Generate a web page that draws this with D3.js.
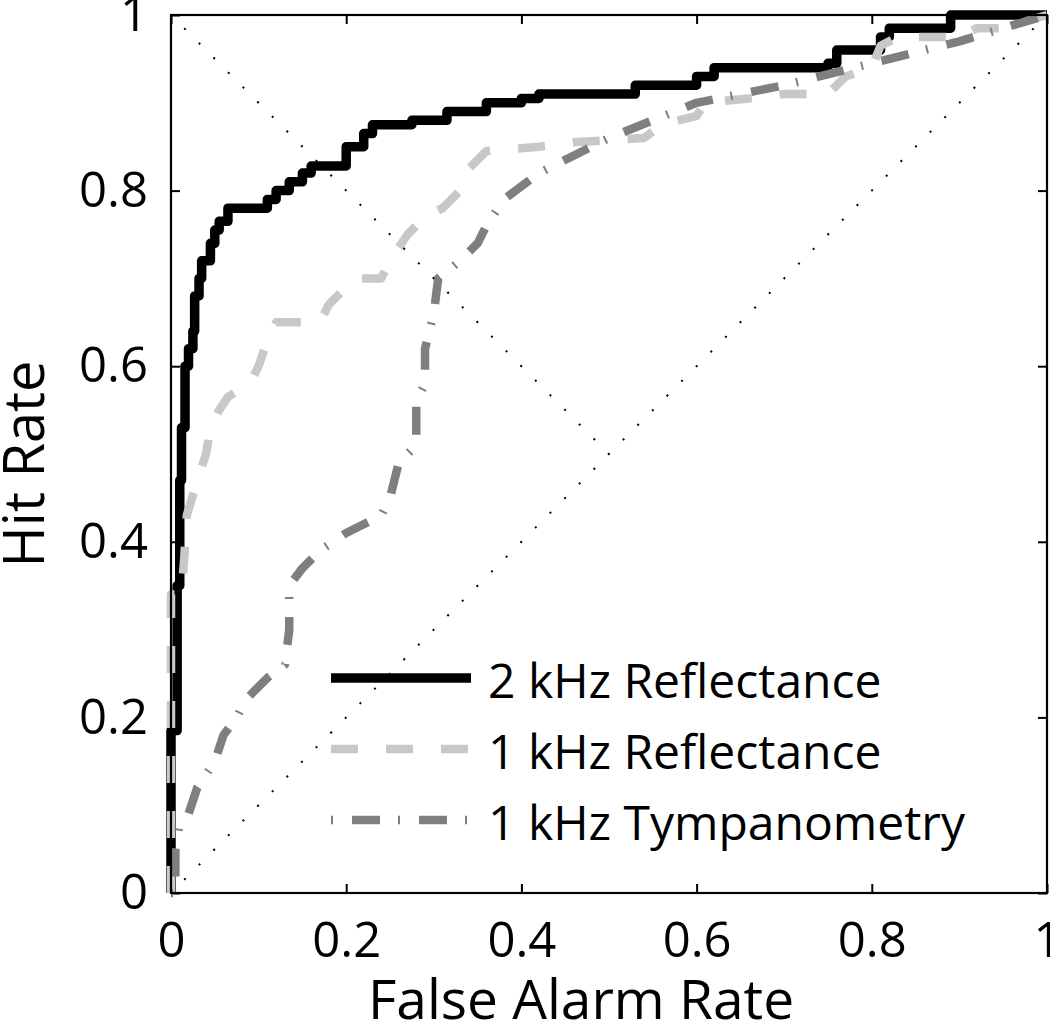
<!DOCTYPE html>
<html>
<head>
<meta charset="utf-8">
<script src="https://cdn.jsdelivr.net/npm/d3@7"></script>
<style>
  body { margin: 0; background: #fff; }
  text { font-family: "Open Sans", "Noto Sans", sans-serif; fill: #000; }
</style>
</head>
<body>
<div id="chart"></div>
<script>
// ROC curves (false alarm rate, hit rate)
const refl2kFA = [0, 0, 0.007, 0.007, 0.01, 0.012, 0.016, 0.02, 0.025, 0.027, 0.032, 0.035, 0.045, 0.05, 0.055, 0.065, 0.1, 0.11, 0.12, 0.135, 0.15, 0.16, 0.2, 0.2, 0.22, 0.22, 0.23, 0.27, 0.275, 0.31, 0.315, 0.35, 0.36, 0.39, 0.4, 0.42, 0.52, 0.53, 0.6, 0.62, 0.75, 0.76, 0.8, 0.81, 0.82, 0.885, 0.89, 1];
const refl2kHR = [0, 0.185, 0.185, 0.35, 0.47, 0.53, 0.6, 0.62, 0.64, 0.68, 0.70, 0.72, 0.74, 0.755, 0.765, 0.78, 0.78, 0.79, 0.80, 0.81, 0.82, 0.828, 0.828, 0.85, 0.85, 0.865, 0.875, 0.875, 0.88, 0.88, 0.89, 0.89, 0.9, 0.9, 0.905, 0.91, 0.91, 0.92, 0.93, 0.94, 0.945, 0.96, 0.96, 0.975, 0.985, 0.985, 1, 1];

const refl1kFA = [0, 0, 0.012, 0.015, 0.018, 0.03, 0.04, 0.045, 0.055, 0.065, 0.09, 0.1, 0.11, 0.12, 0.17, 0.18, 0.2, 0.21, 0.24, 0.25, 0.27, 0.29, 0.31, 0.33, 0.34, 0.36, 0.42, 0.46, 0.54, 0.56, 0.6, 0.61, 0.66, 0.7, 0.75, 0.77, 0.8, 0.81, 0.83, 0.9, 0.92, 0.95, 1];
const refl1kHR = [0, 0.34, 0.34, 0.38, 0.43, 0.47, 0.5, 0.53, 0.55, 0.565, 0.58, 0.6, 0.63, 0.65, 0.65, 0.67, 0.69, 0.70, 0.70, 0.72, 0.75, 0.77, 0.78, 0.80, 0.825, 0.845, 0.85, 0.855, 0.86, 0.875, 0.885, 0.9, 0.905, 0.91, 0.91, 0.93, 0.94, 0.965, 0.975, 0.975, 0.985, 0.985, 1];

const tymp1kFA = [0, 0.005, 0.005, 0.01, 0.02, 0.03, 0.05, 0.06, 0.075, 0.085, 0.11, 0.13, 0.135, 0.135, 0.15, 0.17, 0.2, 0.22, 0.24, 0.25, 0.26, 0.27, 0.28, 0.28, 0.29, 0.29, 0.3, 0.305, 0.33, 0.35, 0.36, 0.38, 0.42, 0.46, 0.5, 0.55, 0.6, 0.7, 0.8, 0.9, 0.95, 1];
const tymp1kHR = [0, 0, 0.05, 0.08, 0.09, 0.12, 0.15, 0.18, 0.2, 0.22, 0.245, 0.26, 0.3, 0.35, 0.37, 0.39, 0.41, 0.42, 0.43, 0.45, 0.49, 0.5, 0.51, 0.56, 0.58, 0.62, 0.66, 0.7, 0.72, 0.74, 0.76, 0.79, 0.82, 0.84, 0.86, 0.88, 0.9, 0.92, 0.945, 0.97, 0.985, 1];

const seriesNames = ["2 kHz Reflectance", "1 kHz Reflectance", "1 kHz Tympanometry"];
const ticks = [0, 0.2, 0.4, 0.6, 0.8, 1];

const width = 1050, height = 1027;
const margin = {top: 15, right: 3, bottom: 134, left: 171};

const svg = d3.select("#chart").append("svg")
  .attr("width", width)
  .attr("height", height);

const x = d3.scaleLinear().domain([0, 1]).range([margin.left, width - margin.right]);
const y = d3.scaleLinear().domain([0, 1]).range([height - margin.bottom, margin.top]);

const zip = (a, b) => a.map((v, i) => [v, b[i]]);

const series = [
  {name: seriesNames[0], pts: zip(refl2kFA, refl2kHR), color: "#000", w: 9.5, dash: null, curve: d3.curveStepAfter},
  {name: seriesNames[1], pts: zip(refl1kFA, refl1kHR), color: "#c8c8c8", w: 8.5, dash: "27,28", curve: d3.curveLinear},
  {name: seriesNames[2], pts: zip(tymp1kFA, tymp1kHR), color: "#7f7f7f", w: 8.5, dash: "2,19,28,18", curve: d3.curveLinear}
];

const line = d3.line().x(d => x(d[0])).y(d => y(d[1]));

// axes (ticks inward, on all four sides)
const fmt = d => d === 0 || d === 1 ? d3.format("d")(d) : d3.format(".1f")(d);

const gx = svg.append("g")
  .attr("transform", `translate(0,${y(0)})`)
  .call(d3.axisBottom(x).tickValues(ticks).tickFormat(fmt).tickSizeInner(-9).tickSizeOuter(0).tickPadding(29));
const gy = svg.append("g")
  .attr("transform", `translate(${x(0)},0)`)
  .call(d3.axisLeft(y).tickValues(ticks).tickFormat(fmt).tickSizeInner(-9).tickSizeOuter(0).tickPadding(23));
svg.append("g")
  .attr("transform", `translate(0,${y(1)})`)
  .call(d3.axisTop(x).tickValues(ticks).tickFormat("").tickSizeInner(-9).tickSizeOuter(0));
svg.append("g")
  .attr("transform", `translate(${x(1)},0)`)
  .call(d3.axisRight(y).tickValues(ticks).tickFormat("").tickSizeInner(-9).tickSizeOuter(0));

svg.selectAll(".domain").remove();
svg.selectAll(".tick line").attr("stroke", "#000").attr("stroke-width", 2);
gx.selectAll("text").attr("font-size", 49).attr("font-family", null);
gy.selectAll("text").attr("font-size", 49).attr("font-family", null);

// curves
svg.selectAll(".curve")
  .data(series)
  .enter()
  .append("path")
  .attr("class", "curve")
  .attr("d", d => line.curve(d.curve)(d.pts))
  .attr("fill", "none")
  .attr("stroke", d => d.color)
  .attr("stroke-width", d => d.w)
  .attr("stroke-dasharray", d => d.dash)
  .attr("stroke-linejoin", "round");

line.curve(d3.curveLinear);

// chance diagonals
const diag = [[[0, 0], [1, 1]], [[0, 1], [0.5, 0.5]]];
svg.selectAll(".diag")
  .data(diag)
  .enter()
  .append("path")
  .attr("class", "diag")
  .attr("d", d => line(d))
  .attr("fill", "none")
  .attr("stroke", "#000")
  .attr("stroke-width", 2)
  .attr("stroke-dasharray", "2,18.7")
  .attr("stroke-dashoffset", -18.7);

// box
svg.append("rect")
  .attr("x", x(0)).attr("y", y(1))
  .attr("width", x(1) - x(0)).attr("height", y(0) - y(1))
  .attr("fill", "none").attr("stroke", "#000").attr("stroke-width", 2.2);

// legend
const leg = svg.append("g").attr("transform", "translate(331,678)");
const row = leg.selectAll("g")
  .data(series)
  .enter()
  .append("g")
  .attr("transform", (d, i) => `translate(0,${i * 71})`);
row.append("line")
  .attr("x1", 0).attr("x2", 140)
  .attr("stroke", d => d.color)
  .attr("stroke-width", d => d.w)
  .attr("stroke-dasharray", d => d.dash);
row.append("text")
  .attr("x", 157).attr("y", 20)
  .attr("font-size", 48)
  .text(d => d.name);

// axis titles
svg.append("text")
  .attr("x", 581).attr("y", 1019)
  .attr("text-anchor", "middle")
  .attr("font-size", 55)
  .text("False Alarm Rate");
svg.append("text")
  .attr("transform", "translate(44,464) rotate(-90)")
  .attr("text-anchor", "middle")
  .attr("font-size", 56)
  .text("Hit Rate");
</script>
</body>
</html>
